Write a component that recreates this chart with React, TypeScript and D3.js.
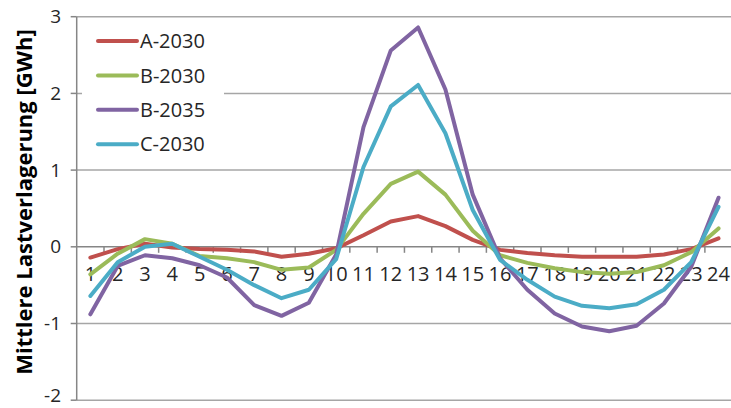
import React from "react";
import * as d3 from "d3";

const hours = d3.range(1, 25).map(String);
const seriesNames = ["A-2030", "B-2030", "B-2035", "C-2030"];
const colors = ["#C0504D", "#9BBB59", "#8064A2", "#4BACC6"];
const a2030 = [-0.14, -0.03, 0.04, -0.01, -0.03, -0.04, -0.06, -0.13, -0.09, -0.02, 0.15, 0.33, 0.4, 0.27, 0.09, -0.04, -0.08, -0.11, -0.13, -0.13, -0.13, -0.1, -0.03, 0.11];
const b2030 = [-0.36, -0.09, 0.1, 0.04, -0.12, -0.15, -0.2, -0.3, -0.27, -0.04, 0.43, 0.82, 0.98, 0.68, 0.21, -0.11, -0.21, -0.28, -0.33, -0.35, -0.33, -0.24, -0.07, 0.24];
const b2035 = [-0.88, -0.25, -0.11, -0.15, -0.24, -0.4, -0.76, -0.9, -0.73, -0.1, 1.56, 2.56, 2.86, 2.05, 0.68, -0.15, -0.56, -0.87, -1.04, -1.1, -1.03, -0.74, -0.26, 0.64];
const c2030 = [-0.64, -0.2, 0.0, 0.04, -0.13, -0.3, -0.5, -0.67, -0.56, -0.16, 1.04, 1.83, 2.11, 1.48, 0.48, -0.17, -0.43, -0.65, -0.77, -0.8, -0.75, -0.56, -0.2, 0.52];
const seriesValues = [a2030, b2030, b2035, c2030];
const yTicks = [-2, -1, 0, 1, 2, 3];

export default function App() {
  const W = 731, H = 408;
  const left = 76.7, right = 732.2;
  const x = d3.scaleBand<string>().domain(hours).range([left, right]);
  const y = d3.scaleLinear().domain([-2, 3]).range([400.2, 16.7]);
  const xc = (h: string) => (x(h) as number) + x.bandwidth() / 2;
  const line = d3.line<number>().x((_, i) => xc(hours[i])).y((v) => y(v));
  const font = "'Open Sans', sans-serif";
  const gridColor = "#A6A6A6";
  const axisColor = "#868686";

  return (
    <div style={{ position: "absolute", left: 0, top: 0 }}>
      <svg width={W} height={H} style={{ display: "block" }}>
        <rect x={0} y={0} width={W} height={H} fill="#fff" />
        {yTicks.filter((t) => t !== 0).map((t) => (
          <line key={t} x1={left} x2={W} y1={y(t)} y2={y(t)} stroke={gridColor} strokeWidth={1.5} />
        ))}
        {yTicks.map((t) => (
          <g key={"yt" + t}>
            <line x1={left - 6} x2={left} y1={y(t)} y2={y(t)} stroke={axisColor} strokeWidth={1.5} />
            <text x={61} y={Math.min(y(t), 395)} dy="0.35em" textAnchor="end" fontFamily={font} fontSize={19} fill="#262626">
              {t}
            </text>
          </g>
        ))}
        <line x1={left} x2={left} y1={y(3)} y2={y(-2)} stroke={axisColor} strokeWidth={1.5} />
        <line x1={left} x2={W} y1={y(0)} y2={y(0)} stroke={axisColor} strokeWidth={1.5} />
        {hours.map((h) => (
          <line key={"xt" + h} x1={(x(h) as number) + x.bandwidth()} x2={(x(h) as number) + x.bandwidth()} y1={y(0)} y2={y(0) + 6} stroke={axisColor} strokeWidth={1.5} />
        ))}
        {hours.map((h) => (
          <text key={"xl" + h} x={xc(h)} y={281} textAnchor="middle" fontFamily={font} fontSize={20} fill="#262626">
            {h}
          </text>
        ))}
        <rect x={82} y={22} width={142} height={143} fill="#fff" />
        {seriesValues.map((vals, i) => (
          <path key={seriesNames[i]} d={line(vals) as string} fill="none" stroke={colors[i]} strokeWidth={4} strokeLinejoin="round" strokeLinecap="round" />
        ))}
        {seriesNames.map((n, i) => (
          <g key={"lg" + n} transform={`translate(0, ${41 + i * 34.4})`}>
            <line x1={98} x2={137} y1={0} y2={0} stroke={colors[i]} strokeWidth={4} strokeLinecap="round" />
            <text x={140} y={0} dy="0.36em" fontFamily={font} fontSize={20} fill="#262626">
              {n}
            </text>
          </g>
        ))}
        <text transform={`translate(32, 202) rotate(-90)`} textAnchor="middle" fontFamily={font} fontSize={22} fontWeight="bold" fill="#000">
          Mittlere Lastverlagerung [GWh]
        </text>
      </svg>
    </div>
  );
}
